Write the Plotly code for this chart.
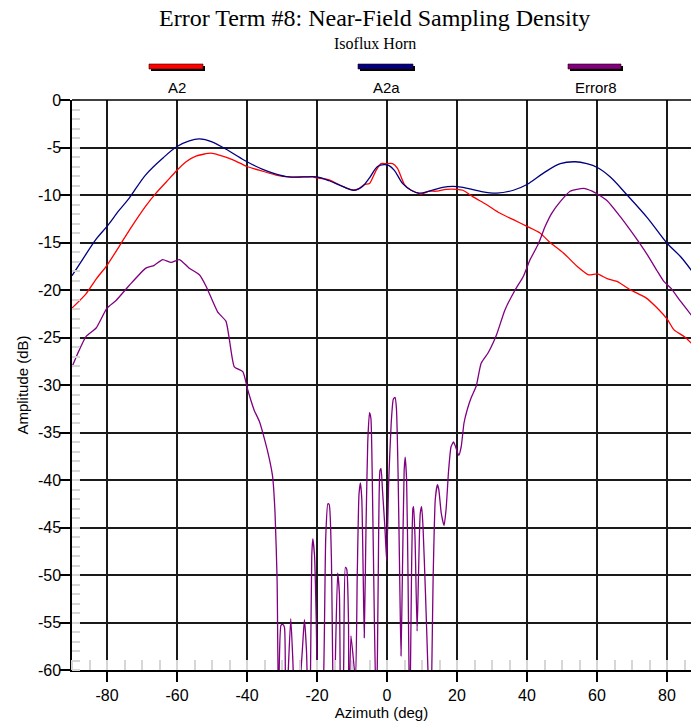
import plotly.graph_objects as go

# ---- A2 (measured pattern) ----
a2_az = [-90, -86, -83, -80, -76.5, -73.6, -69, -66, -63, -60, -57.4, -54.6, -50.3, -47.9, -44, -40,
         -35.5, -31.7, -28, -24, -21.2, -20, -16.5, -12.7, -9.6, -7.9, -6.5, -5, -3.1, -1.7, -0.3,
         1.6, 3, 5, 6.9, 9.7, 12.1, 14, 16.9, 20, 21.7, 24.6, 28.4, 32.2, 36.1, 40, 43.7, 46.6,
         50.4, 54.3, 57.6, 60.1, 62.9, 65.7, 69.6, 73.9, 77.2, 80.1, 82, 84.9, 87.5]
a2_db = [-21.9, -20.4, -18.8, -17.4, -15.4, -13.7, -11.2, -9.8, -8.6, -7.4, -6.5, -5.9, -5.6, -5.8,
         -6.3, -7.0, -7.5, -7.9, -8.1, -8.1, -8.1, -8.2, -8.4, -9.1, -9.5, -9.3, -8.9, -8.8, -7.4,
         -6.7, -6.7, -6.7, -7.2, -8.9, -9.5, -9.9, -9.6, -9.6, -9.4, -9.4, -9.5, -10.2, -11.0,
         -11.9, -12.6, -13.3, -14.0, -15.0, -16.1, -17.5, -18.4, -18.3, -18.8, -19.1, -20.0,
         -20.8, -21.9, -23.1, -24.2, -24.9, -25.8]

# ---- A2a (reference pattern) ----
a2a_az = [-90, -87, -83, -80, -76.5, -73.6, -69, -64, -60, -56.5, -53.6, -50, -45, -40, -35.5,
          -31.7, -28, -24, -20, -16.5, -12.7, -9.6, -7, -5, -2.7, -0.8, 0.6, 2.1, 4.5, 6.9, 9.2,
          12.1, 15.9, 18.8, 21.7, 26.5, 31.3, 36.1, 40, 44.7, 49.5, 53.8, 57.1, 60.1, 63.8, 68.6,
          74.4, 80.1, 83.9, 87.5]
a2a_db = [-18.5, -16.8, -14.6, -13.3, -11.6, -10.3, -7.9, -6.1, -4.9, -4.3, -4.1, -4.4, -5.4,
          -6.5, -7.3, -7.8, -8.1, -8.1, -8.1, -8.5, -9.1, -9.5, -9.1, -8.2, -7.0, -6.8, -6.9,
          -7.4, -8.8, -9.5, -9.8, -9.6, -9.2, -9.1, -9.2, -9.6, -9.8, -9.5, -8.9, -7.7, -6.7,
          -6.5, -6.7, -7.1, -8.1, -10.0, -12.4, -15.1, -16.5, -18.2]

# ---- Error8 (difference pattern) ----
err_az = [-90, -88.4, -86, -83.1, -80, -77.4, -73.6, -68.9, -66.5, -64.1, -61.7, -59.3, -56.5,
          -53.6, -51.7, -48.4, -46, -45, -43.6, -41.2, -39.8, -38.9, -37.9, -36.5, -35, -33.6,
          -32.7, -32, -31.4, -31.0, -30.3, -29.8, -29.3, -29.0, -28.2, -27.5, -26.8, -26.2,
          -24.2, -23.6, -23.0, -22.3, -21.9, -21.5, -21.2, -20.7, -20.2, -19.6, -18.2, -17.5,
          -16.9, -16.5, -15.9, -15.2, -14.7, -14.1, -13.6, -13.2, -12.4, -11.9, -11.5, -11.0,
          -10.9, -10.3, -9.0, -8.5, -8.0, -7.6, -7.2, -6.8, -6.5, -6.0, -5.5, -5.0, -4.6, -4.2,
          -3.6, -3.0, -2.5, -2.0, -1.7, -1.3, -0.6, -0.1, 0.5, 1.2, 1.8, 2.3, 2.7, 3.2, 3.7, 4.0,
          4.4, 4.9, 5.2, 5.6, 6.0, 6.5, 7.0, 7.4, 7.6, 8.0, 8.6, 9.0, 9.5, 9.9, 10.3, 11.0, 11.7,
          12.4, 13.2, 13.8, 14.4, 14.8, 15.5, 16.3, 16.9, 17.6, 18.3, 19.0, 19.6, 20.5, 21.2,
          22.0, 23.0, 24.1, 25.5, 26.9, 28.9, 31.3, 33.7, 36.6, 38.9, 40.9, 43.3, 45.2, 47.1,
          49.5, 52.3, 56.2, 58.6, 60.1, 62.9, 66.7, 70.5, 74.4, 77.2, 79.1, 81.1, 83.9, 87.5]
err_db = [-28.1, -26.7, -24.9, -24.0, -21.9, -21.1, -19.5, -17.7, -17.4, -16.8, -17.1, -16.8,
          -17.7, -18.4, -19.6, -22.3, -23.3, -25.3, -28.1, -28.6, -30.5, -31.6, -32.7, -33.8,
          -35.7, -37.8, -39.6, -43.4, -50.5, -64, -55.3, -55.2, -55.5, -68, -60, -54.6, -60, -68,
          -58, -54.7, -58, -68, -62, -48, -46.2, -48, -55, -68, -62, -46, -42.5, -42.6, -48, -68,
          -58, -49.8, -52, -68, -60, -49.2, -49.4, -55, -66, -56.4, -61, -50, -41.5, -40.3, -42,
          -50, -56.6, -45, -36, -32.9, -33.5, -40, -55, -66, -50, -39, -38.8, -41, -45, -48.5,
          -40, -34, -31.5, -31.3, -32.5, -40, -52, -58.5, -50, -39, -37.6, -40, -50, -66, -50,
          -43, -42.8, -46, -55.9, -50, -43.5, -42.8, -45, -52, -60, -68, -50, -42, -40.5, -41,
          -43.5, -44.8, -43, -39, -36.5, -36, -36.5, -37.4, -36.5, -34, -32.5, -31.3, -30.1,
          -27.7, -26.6, -24.7, -22.1, -20.0, -18.6, -16.8, -15.1, -13.3, -11.9, -10.7, -9.6,
          -9.3, -9.6, -9.9, -10.6, -12.3, -14.2, -16.3, -18.0, -19.1, -19.8, -21.2, -22.9]

series_names = ["A2", "A2a", "Error8"]
series_colors = ["#ff0000", "#000080", "#800080"]

x_ticks = [-80, -60, -40, -20, 0, 20, 40, 60, 80]
y_ticks = [0, -5, -10, -15, -20, -25, -30, -35, -40, -45, -50, -55, -60]

W, H = 691, 724
L, R, T, B = 72, 0, 100, 54
PW, PH = W - L - R, H - T - B


def px(xp):
    return (xp - L) / PW


def py(yp):
    return (H - B - yp) / PH


fig = go.Figure()
fig.add_trace(go.Scatter(x=a2_az, y=a2_db, mode="lines", name=series_names[0],
                         line=dict(color=series_colors[0], width=1.3, shape="spline", smoothing=0.6)))
fig.add_trace(go.Scatter(x=a2a_az, y=a2a_db, mode="lines", name=series_names[1],
                         line=dict(color=series_colors[1], width=1.3, shape="spline", smoothing=1.0)))
fig.add_trace(go.Scatter(x=err_az, y=err_db, mode="lines", name=series_names[2],
                         line=dict(color=series_colors[2], width=1.3, shape="spline", smoothing=0.5)))

sans = "Liberation Sans, Arial, sans-serif"
serif = "Liberation Serif, Times New Roman, serif"
axis_font = dict(family=sans, size=16, color="black")

fig.update_xaxes(
    range=[-90, -90 + PW / 3.5], tickmode="array", tickvals=x_ticks,
    ticktext=[str(v) for v in x_ticks], ticks="outside", ticklen=10, tickwidth=1.5,
    tickcolor="black", showline=True, linecolor="black", linewidth=1.5,
    showgrid=True, gridcolor="#1a1a1a", gridwidth=1.5, zeroline=False,
    tickfont=axis_font,
    minor=dict(dtick=5, tick0=0, ticks="inside", ticklen=10, tickwidth=1.5,
               tickcolor="#d6d6d6", showgrid=False),
    title=dict(text="Azimuth (deg)", font=dict(family=sans, size=15, color="black"), standoff=4),
)
fig.update_yaxes(
    range=[-60, 0], tickmode="array", tickvals=y_ticks,
    ticktext=[str(v) for v in y_ticks], ticks="outside", ticklen=10, tickwidth=1.5,
    tickcolor="black", showline=True, linecolor="black", linewidth=1.5,
    showgrid=True, gridcolor="#1a1a1a", gridwidth=1.5, zeroline=False,
    tickfont=axis_font, ticklabelstandoff=-4,
    minor=dict(dtick=1, tick0=0, ticks="inside", ticklen=8, tickwidth=1.5,
               tickcolor="#d6d6d6", showgrid=False),
    title=dict(text="Amplitude (dB)", font=dict(family=sans, size=15, color="black"), standoff=6),
)

shapes = [dict(type="line", xref="paper", yref="paper", x0=0, x1=1, y0=1, y1=1,
               line=dict(color="black", width=1.5))]
annotations = [
    dict(text="Error Term #8: Near-Field Sampling Density", xref="paper", yref="paper",
         x=px(374), y=py(18), showarrow=False, xanchor="center", yanchor="middle",
         font=dict(family=serif, size=24, color="black")),
    dict(text="Isoflux Horn", xref="paper", yref="paper", x=px(375), y=py(44),
         showarrow=False, xanchor="center", yanchor="middle",
         font=dict(family=serif, size=16, color="black")),
]

# legend: thick swatch with a dark drop shadow above each label
legend_spans = [(149, 203), (358, 413), (568, 621)]
for name, color, (x0, x1) in zip(series_names, series_colors, legend_spans):
    shapes.append(dict(type="rect", xref="paper", yref="paper",
                       x0=px(x0 + 2), x1=px(x1 + 2), y0=py(71), y1=py(66),
                       fillcolor="black", line=dict(width=0)))
    shapes.append(dict(type="rect", xref="paper", yref="paper",
                       x0=px(x0), x1=px(x1), y0=py(69), y1=py(64),
                       fillcolor=color, line=dict(color="#300000", width=0.6)))
    annotations.append(dict(text=name, xref="paper", yref="paper", x=px((x0 + x1) / 2 + 1),
                            y=py(88), showarrow=False, xanchor="center", yanchor="middle",
                            font=dict(family=sans, size=15, color="black")))

fig.update_layout(
    width=W, height=H, margin=dict(l=L, r=R, t=T, b=B, autoexpand=False),
    paper_bgcolor="white", plot_bgcolor="white", showlegend=False,
    shapes=shapes, annotations=annotations,
)

fig.write_html("out.html")
